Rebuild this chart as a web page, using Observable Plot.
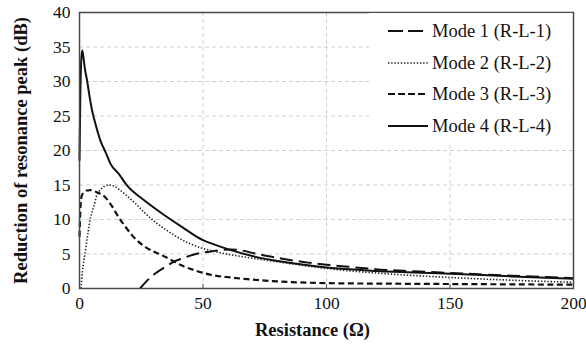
<!DOCTYPE html>
<html><head><meta charset="utf-8">
<script src="https://cdn.jsdelivr.net/npm/d3@7"></script>
<script src="https://cdn.jsdelivr.net/npm/@observablehq/plot@0.6"></script>
<style>
body{margin:0;background:#fff;}
#wrap{position:relative;width:586px;height:344px;}
#legend{position:absolute;left:369px;top:13px;width:203px;height:130px;background:#fff;font-family:"Liberation Serif","Times New Roman",Times,serif;font-size:18.5px;color:#111;}
.row{position:absolute;left:0;height:22px;display:flex;align-items:center;white-space:nowrap;}
.row svg{margin-left:19px;margin-right:4px;}
</style></head><body><div id="wrap"><div id="legend"></div></div>
<script>
// Mode 1 (R-L-1)
const r1 = [24.5, 27, 30.8, 35, 38.9, 42, 46, 50, 54.4, 58, 61, 65, 70.7, 76, 81.6, 92.5, 100, 107.5, 119.8, 135, 150, 175, 200];
const v1 = [0, 1.0, 2.2, 3.2, 4.0, 4.4, 4.9, 5.2, 5.45, 5.6, 5.65, 5.55, 5.1, 4.7, 4.35, 3.75, 3.45, 3.2, 2.8, 2.5, 2.25, 1.85, 1.5];
// Mode 2 (R-L-2)
const r2 = [0.6, 1.2, 2.4, 3.5, 4.5, 5.8, 7.2, 8.5, 10, 11.9, 13.5, 15.9, 19, 22.7, 26, 30.8, 35, 38.9, 44, 50, 54.4, 61, 68, 81.6, 100, 120, 150, 175, 200];
const v2 = [0, 2.5, 5.5, 8.2, 10.3, 11.9, 13.7, 14.3, 14.8, 15.0, 14.9, 14.4, 13.5, 12.3, 11.1, 9.6, 8.5, 7.6, 6.6, 5.8, 5.4, 4.9, 4.5, 3.8, 2.9, 2.25, 1.6, 1.2, 0.9];
// Mode 3 (R-L-3)
const r3 = [0, 0.3, 0.8, 1.1, 2, 3, 4.5, 6, 8, 10.5, 13, 15.9, 18.5, 21.3, 26.7, 33.5, 38.9, 41, 47, 54.4, 61, 68, 81.6, 100, 125, 150, 175, 200];
const v3 = [7.5, 11, 13.3, 13.6, 14.0, 14.2, 14.25, 14.1, 13.8, 13.2, 12.0, 10.3, 9.0, 7.7, 6.0, 4.8, 3.8, 3.4, 2.6, 1.9, 1.6, 1.35, 1.0, 0.78, 0.7, 0.65, 0.6, 0.55];
// Mode 4 (R-L-4)
const r4 = [0, 0.3, 0.7, 1.1, 1.6, 2.2, 3.1, 4, 5.1, 6.5, 8.5, 10.5, 12.5, 15.9, 19.3, 25.4, 32.1, 41.6, 50, 54.4, 61, 70, 81.6, 100, 120, 150, 175, 200];
const v4 = [18.5, 27, 33, 34.5, 33.5, 31.8, 30.1, 28, 25.8, 23.8, 21.4, 19.8, 18.1, 16.6, 14.9, 13.0, 11.2, 8.9, 7.0, 6.4, 5.6, 4.7, 3.9, 3.05, 2.55, 2.15, 1.75, 1.4];

const seriesNames = ["Mode 1 (R-L-1)", "Mode 2 (R-L-2)", "Mode 3 (R-L-3)", "Mode 4 (R-L-4)"];
const xTicks = [0, 50, 100, 150, 200];
const yTicks = [0, 5, 10, 15, 20, 25, 30, 35, 40];

const styles = [
  {stroke: "#111", strokeWidth: 2, strokeDasharray: "13,6"},
  {stroke: "#222", strokeWidth: 1.6, strokeDasharray: "1.4,1.8"},
  {stroke: "#111", strokeWidth: 2.2, strokeDasharray: "6,3.5"},
  {stroke: "#111", strokeWidth: 2, strokeDasharray: null}
];
const rs = [r1, r2, r3, r4], vs = [v1, v2, v3, v4];
const series = rs.map((r, i) => r.map((x, j) => ({x, y: vs[i][j], s: seriesNames[i]})));

const font = '"Liberation Serif", "Times New Roman", Times, serif';
const chart = Plot.plot({
  width: 586, height: 344,
  marginLeft: 79, marginRight: 13, marginTop: 12, marginBottom: 56,
  style: {fontFamily: font, fontSize: "17.5px", background: "#fff", color: "#111"},
  x: {domain: [0, 200]},
  y: {domain: [0, 40]},
  marks: [
    Plot.gridX(xTicks.slice(1, -1), {stroke: "#cfcfcf", strokeOpacity: 1, strokeDasharray: "4,3"}),
    Plot.gridY(yTicks.slice(1, -1), {stroke: "#cfcfcf", strokeOpacity: 1, strokeDasharray: "4,3"}),
    ...series.map((d, i) => Plot.line(d, {x: "x", y: "y", curve: "monotone-x", ...styles[i], strokeLinecap: "butt"})),
    Plot.axisX(xTicks, {tickSize: 0, tickPadding: 8, label: "Resistance (Ω)", labelAnchor: "center", labelArrow: "none", labelOffset: 47, fontSize: 17.5}),
    Plot.axisX(xTicks.slice(1, -1), {tickSize: -4, text: null, label: null, stroke: "#555"}),
    Plot.axisY(yTicks, {tickSize: 0, tickPadding: 9, label: "Reduction of resonance peak (dB)", labelAnchor: "center", labelArrow: "none", labelOffset: 66, fontSize: 17.5}),
    Plot.frame({stroke: "#4a4a4a", strokeWidth: 1.5})
  ]
});
d3.select(chart).selectAll("text").attr("font-family", font);
d3.select(chart).selectAll("[aria-label$='axis label'] text").attr("font-weight", "bold").attr("font-size", 18.5);
d3.select(chart).selectAll("[aria-label='x-axis label'] text").attr("dx", -14);
document.getElementById("wrap").prepend(chart);

const legend = document.getElementById("legend");
const rowTops = [7, 39, 70, 102];
seriesNames.forEach((name, i) => {
  const row = document.createElement("div");
  row.className = "row";
  row.style.top = rowTops[i] + "px";
  const st = styles[i];
  const dash = i === 0 ? "15,5" : i === 2 ? "7,3" : st.strokeDasharray;
  row.innerHTML = `<svg width="40" height="10"><line x1="0" x2="40" y1="5" y2="5" stroke="${st.stroke}" stroke-width="${st.strokeWidth}" ${dash ? `stroke-dasharray="${dash}"` : ""}/></svg><span>${name}</span>`;
  legend.appendChild(row);
});
</script></body></html>
